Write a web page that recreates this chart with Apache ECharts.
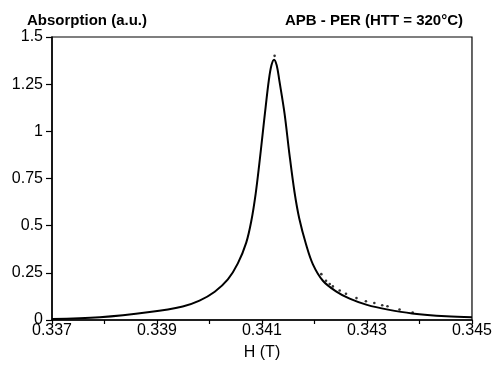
<!DOCTYPE html>
<html><head><meta charset="utf-8">
<script src="https://cdn.jsdelivr.net/npm/echarts@6/dist/echarts.min.js"></script>
<style>html,body{margin:0;padding:0;background:#fff}#c{width:495px;height:366px}</style>
</head><body><div id="c"></div>
<script>
const fieldT = [0.3370,0.33791,0.33886,0.33949,0.33981,0.34010,0.34035,0.34054,0.34070,0.34080,0.34088,0.34095,0.34101,0.34107,0.34113,0.34118,0.34123,0.34128,0.34133,0.34143,0.34152,0.34162,0.34171,0.34184,0.34197,0.34216,0.34241,0.34267,0.34300,0.34340,0.34386,0.34451,0.34500];
const absorption = [0.005,0.014,0.042,0.072,0.103,0.15,0.215,0.30,0.41,0.53,0.67,0.83,0.98,1.13,1.27,1.35,1.38,1.35,1.27,1.094,0.885,0.677,0.538,0.40,0.295,0.208,0.152,0.113,0.08,0.055,0.035,0.02,0.015];
const dotField = [0.34124,0.34213,0.34222,0.34229,0.34235,0.34248,0.34260,0.34280,0.34298,0.34314,0.34329,0.34339,0.34362,0.34387];
const dotAbs = [1.40,0.243,0.208,0.191,0.178,0.156,0.139,0.116,0.099,0.090,0.078,0.073,0.056,0.040];
const yTicks = [0,0.25,0.5,0.75,1,1.25,1.5];
const xLabels = ['0.337','0.339','0.341','0.343','0.345'];
const yTitle = 'Absorption (a.u.)';
const chartTitle = 'APB - PER (HTT = 320°C)';
const xTitle = 'H (T)';

const font = 'Liberation Sans, Arial, sans-serif';
const chart = echarts.init(document.getElementById('c'), null, {renderer:'canvas'});
chart.setOption({
  animation:false,
  backgroundColor:'#fff',
  grid:{left:52,right:22,top:37,bottom:41,show:true,borderColor:'#000',borderWidth:1.2},
  graphic:[
    {type:'text',left:27,top:13,style:{text:yTitle,font:'bold 15px '+font,fill:'#000'}},
    {type:'text',right:32,top:13,style:{text:chartTitle,font:'bold 15px '+font,fill:'#000'}}
  ],
  xAxis:{type:'value',min:0.337,max:0.345,interval:0.001,
    name:xTitle,nameLocation:'middle',nameGap:25,
    nameTextStyle:{color:'#000',fontSize:16,fontFamily:font},
    axisLine:{show:true,onZero:false,lineStyle:{color:'#000',width:1.5}},
    axisTick:{show:true,length:4,lineStyle:{color:'#000',width:1.2}},
    splitLine:{show:false},
    axisLabel:{color:'#000',fontSize:16,fontFamily:font,margin:3,
      formatter:v=>{const s=v.toFixed(3);return xLabels.indexOf(s)>=0?s:'';}}
  },
  yAxis:{type:'value',min:0,max:1.5,interval:0.25,
    axisLine:{show:true,lineStyle:{color:'#000',width:1.5}},
    axisTick:{show:true,length:6,lineStyle:{color:'#000',width:1.2}},
    splitLine:{show:false},
    axisLabel:{color:'#000',fontSize:16,fontFamily:font,margin:9,
      formatter:v=>{const t=yTicks.find(x=>Math.abs(x-v)<1e-9);return t===undefined?'':String(t);}}
  },
  series:[
    {type:'line',data:fieldT.map((x,i)=>[x,absorption[i]]),smooth:0.35,showSymbol:false,
      lineStyle:{color:'#000',width:2},z:3},
    {type:'scatter',data:dotField.map((x,i)=>[x,dotAbs[i]]),symbol:'circle',symbolSize:2.6,
      itemStyle:{color:'#000'},z:4}
  ]
});
</script></body></html>
